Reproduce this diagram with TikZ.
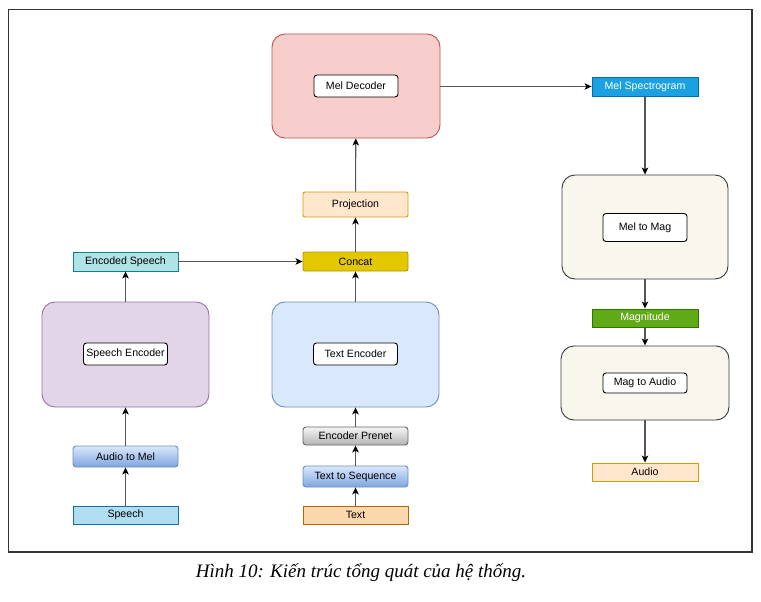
\documentclass[tikz,border=0pt]{standalone}
\usepackage{fontspec}
\setmainfont{Liberation Sans}
\newfontfamily\capfont{Liberation Serif}
\usetikzlibrary{arrows.meta}
\definecolor{decF}{HTML}{F8CECC}\definecolor{decS}{HTML}{B85450}
\definecolor{speF}{HTML}{E1D5E7}\definecolor{speS}{HTML}{9673A6}
\definecolor{txeF}{HTML}{DAE8FC}\definecolor{txeS}{HTML}{6C8EBF}
\definecolor{magF}{HTML}{F9F7ED}\definecolor{magS}{HTML}{36393D}
\definecolor{msF}{HTML}{1BA1E2}\definecolor{msS}{HTML}{006EAF}
\definecolor{orF}{HTML}{FFE6CC}\definecolor{orS}{HTML}{D79B00}
\definecolor{conF}{HTML}{E3C800}\definecolor{conS}{HTML}{B09500}
\definecolor{esF}{HTML}{B0E3E6}\definecolor{esS}{HTML}{0E8088}
\definecolor{spF}{HTML}{B1DDF0}\definecolor{spS}{HTML}{10739E}
\definecolor{txF}{HTML}{FAD7AC}\definecolor{txS}{HTML}{B46504}
\definecolor{gnF}{HTML}{60A917}\definecolor{gnS}{HTML}{2D7600}
\definecolor{blT}{HTML}{DAE8FC}\definecolor{blB}{HTML}{7EA6E0}
\definecolor{gyT}{HTML}{F5F5F5}\definecolor{gyB}{HTML}{B3B3B3}\definecolor{gyS}{HTML}{666666}
\definecolor{lineC}{HTML}{555555}
\begin{document}
\begin{tikzpicture}[x=1pt,y=-1pt,
  font=\fontsize{10.6}{12}\selectfont,
  base/.style={draw, line width=0.9pt, inner sep=0pt, align=center},
  bigbox/.style={base, rounded corners=13pt, minimum width=#1},
  inbox/.style={base, fill=white, draw=black, rounded corners=3pt, minimum width=84pt, minimum height=22pt},
  flat/.style={base, minimum width=105pt},
  grad/.style={base, rounded corners=3pt, minimum width=105pt},
  conn/.style={draw=lineC, line width=1.1pt, -{Stealth[length=7pt,width=6.5pt,inset=1.8pt,black]}}
]
\useasboundingbox (0,0) rectangle (761,602);
\draw[line width=1.5pt, draw=black!80] (8.5,9.5) rectangle (752,552);

% top / middle column
\node[bigbox=168pt, minimum height=104pt, fill=decF, draw=decS] (dec) at (356,86) {};
\node[inbox] (decin) at (356,86) {Mel Decoder};
\node[flat, minimum height=25pt, fill=orF, draw=orS, rounded corners=2pt] (proj) at (355.5,204.5) {Projection};
\node[flat, minimum height=19pt, fill=conF, draw=conS, rounded corners=2pt] (concat) at (355.5,261.5) {Concat};
\node[bigbox=167pt, minimum height=105pt, fill=txeF, draw=txeS] (txenc) at (355.5,354.5) {};
\node[inbox] (txencin) at (355.5,354) {Text Encoder};
\node[grad, minimum height=18pt, top color=gyT, bottom color=gyB, draw=gyS] (prenet) at (355.5,436) {Encoder Prenet};
\node[grad, minimum height=21pt, top color=blT, bottom color=blB, draw=txeS] (t2s) at (355.5,476.5) {Text to Sequence};
\node[flat, minimum height=18pt, fill=txF, draw=txS] (text) at (355.5,515) {Text};

% left column
\node[flat, minimum height=19pt, fill=esF, draw=esS] (encsp) at (125.5,261.5) {Encoded Speech};
\node[bigbox=167pt, minimum height=105pt, fill=speF, draw=speS] (spenc) at (125.5,354.5) {};
\node[inbox] (spencin) at (125.5,354) {Speech Encoder};
\node[grad, minimum height=21pt, top color=blT, bottom color=blB, draw=txeS] (a2m) at (125.5,456.5) {Audio to Mel};
\node[flat, minimum height=18pt, fill=spF, draw=spS] (speech) at (125.5,515) {Speech};

% right column
\node[flat, minimum width=106pt, minimum height=19pt, fill=msF, draw=msS, text=white] (melspec) at (645,86.5) {Mel Spectrogram};
\node[bigbox=166pt, minimum height=104pt, fill=magF, draw=magS] (m2m) at (645,227) {};
\node[inbox, minimum height=28pt] (m2min) at (645,227.5) {Mel to Mag};
\node[flat, minimum width=106pt, minimum height=18pt, fill=gnF, draw=gnS, text=white] (mag) at (645,318) {Magnitude};
\node[bigbox=168pt, minimum height=74pt, fill=magF, draw=magS] (m2a) at (645,383) {};
\node[inbox, minimum height=20pt] (m2ain) at (645,383) {Mag to Audio};
\node[flat, minimum width=106pt, minimum height=18pt, fill=orF, draw=orS] (audio) at (645,472) {Audio};

% connectors
\draw[conn] (speech) -- (a2m);
\draw[conn] (a2m) -- (spenc);
\draw[conn] (spenc) -- (encsp);
\draw[conn] (encsp) -- (concat);
\draw[conn] (text) -- (t2s);
\draw[conn] (t2s) -- (prenet);
\draw[conn] (prenet) -- (txenc);
\draw[conn] (txenc) -- (concat);
\draw[conn] (concat) -- (proj);
\draw[conn] (proj) -- (dec);
\draw[conn] (dec.east |- melspec.west) -- (melspec.west);
\draw[conn] (melspec) -- (m2m);
\draw[conn] (m2m) -- (mag);
\draw[conn] (mag) -- (m2a);
\draw[conn] (m2a) -- (audio);

% caption
\node[font=\capfont\itshape\fontsize{19}{22}\selectfont, anchor=base] (cap) at (361,577) {Hình 10: Kiến trúc tổng quát của hệ thống.};
\end{tikzpicture}
\end{document}
